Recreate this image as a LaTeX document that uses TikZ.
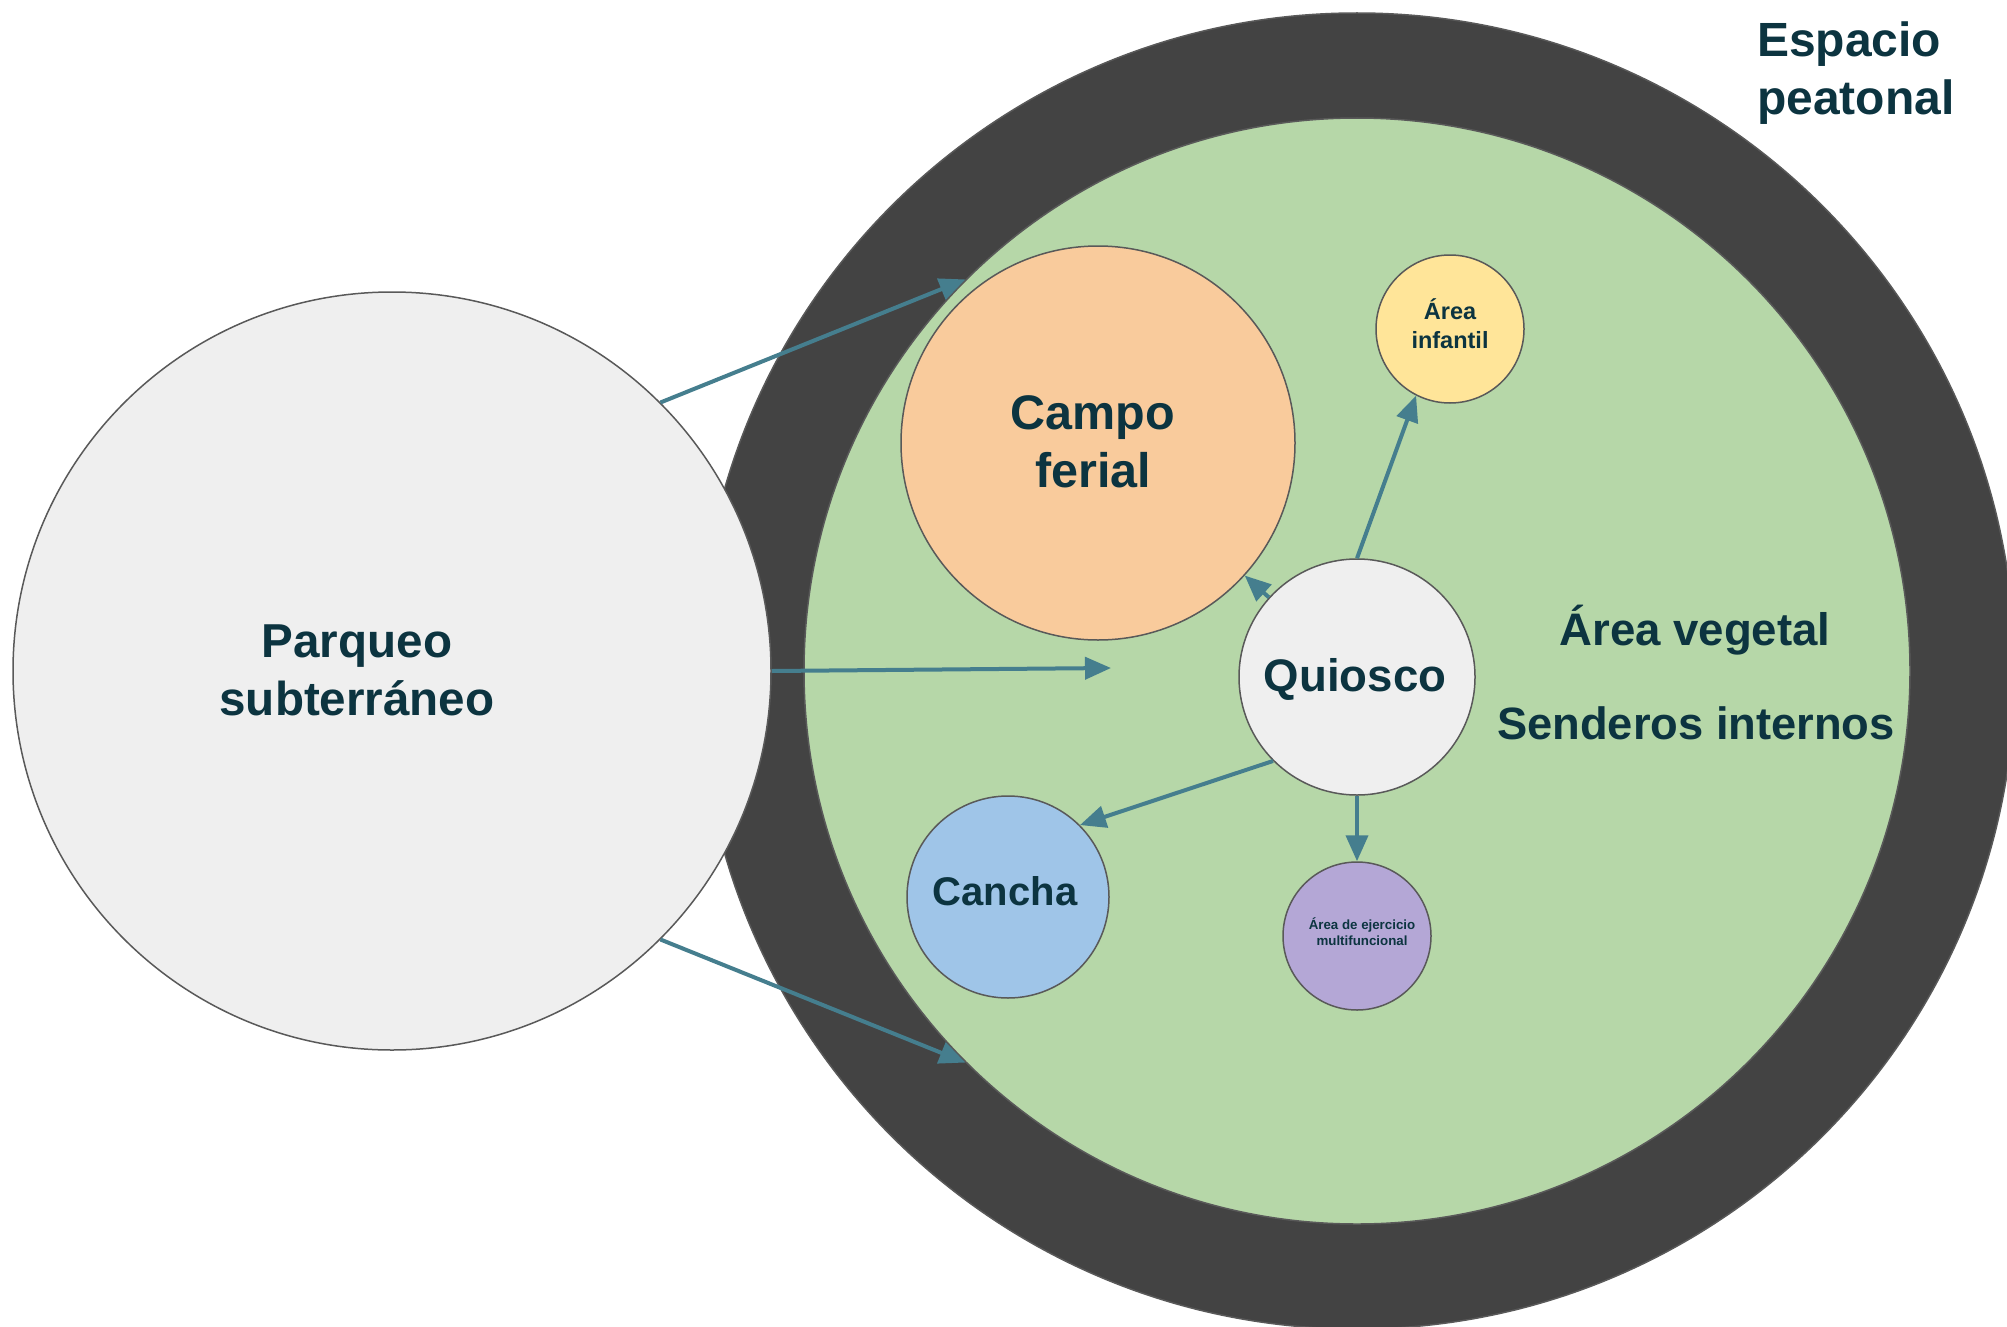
\documentclass[tikz,border=0pt]{standalone}
\usepackage{fontspec}
\setmainfont{Liberation Sans}
\usetikzlibrary{arrows.meta}
\definecolor{ringc}{HTML}{434343}
\definecolor{vegc}{HTML}{B6D7A8}
\definecolor{greyc}{HTML}{EFEFEF}
\definecolor{orangec}{HTML}{F9CB9C}
\definecolor{yellowc}{HTML}{FFE599}
\definecolor{bluec}{HTML}{9FC5E8}
\definecolor{purplec}{HTML}{B4A7D6}
\definecolor{linec}{HTML}{595959}
\definecolor{txtc}{HTML}{0C3440}
\definecolor{arrowc}{HTML}{457E8E}
\tikzset{
  zone/.style={circle, draw=linec, line width=1.5pt, inner sep=0pt, align=center, text=txtc},
  lbl/.style={inner sep=0pt, align=center, text=txtc},
  flow/.style={draw=arrowc, line width=4pt, -{Triangle[length=26pt,width=22pt]}}
}
\begin{document}
\begin{tikzpicture}[x=1pt,y=-1pt]
\useasboundingbox (0,0) rectangle (2007,1327);
\begin{scope}
\clip (0,0) rectangle (2007,1327);
\node[zone, fill=ringc, minimum size=1316pt] (outer) at (1357,671) {};
\end{scope}
\node[zone, fill=vegc, minimum size=1106pt] (veg) at (1357,671) {};
\node[zone, fill=greyc, minimum size=758pt] (parq) at (392,671) {};
\node[lbl, font=\fontsize{47.6}{58}\selectfont\bfseries] (parqlbl) at (357,670) {Parqueo\\subterráneo};
\node[zone, fill=orangec, minimum size=394pt] (campo) at (1098,443) {};
\node[lbl, font=\fontsize{48.5}{58}\selectfont\bfseries] (campolbl) at (1093,442) {Campo\\ferial};
\node[zone, fill=yellowc, minimum size=148pt] (infantil) at (1450,329) {};
\node[lbl, font=\fontsize{23.5}{29}\selectfont\bfseries] (infantillbl) at (1450,324) {Área\\infantil};
\node[zone, fill=greyc, minimum size=236pt] (quiosco) at (1357,677) {};
\node[lbl, font=\fontsize{45.6}{54}\selectfont\bfseries] (quioscolbl) at (1355,679) {Quiosco};
\node[zone, fill=bluec, minimum size=202pt] (cancha) at (1008,897) {};
\node[lbl, font=\fontsize{40}{46}\selectfont\bfseries] (canchalbl) at (1005,891) {Cancha};
\node[zone, fill=purplec, minimum size=148pt] (ejer) at (1357,936) {};
\node[lbl, font=\fontsize{13.3}{16}\selectfont\bfseries] (ejerlbl) at (1362,932) {Área de ejercicio\\multifuncional};
\node[lbl, font=\fontsize{45.6}{54}\selectfont\bfseries] (vegetal) at (1695,630) {Área vegetal};
\node[lbl, font=\fontsize{45.3}{54}\selectfont\bfseries] (senderos) at (1696,723) {Senderos internos};
\node[lbl, font=\fontsize{48}{58}\selectfont\bfseries, align=left, anchor=west] (peatonal) at (1757,73) {Espacio\\peatonal};
\coordinate (mid) at (1111,668);
\draw[flow] (parq.45) -- (veg.135);
\draw[flow] (parq.-45) -- (veg.-135);
\draw[flow] (parq.east) -- (mid);
\draw[flow] (quiosco) -- (campo);
\draw[flow] (quiosco.north) -- (infantil.243);
\draw[flow] (quiosco.225) -- (cancha.45);
\draw[flow] (quiosco.south) -- (ejer.north);
\end{tikzpicture}
\end{document}
